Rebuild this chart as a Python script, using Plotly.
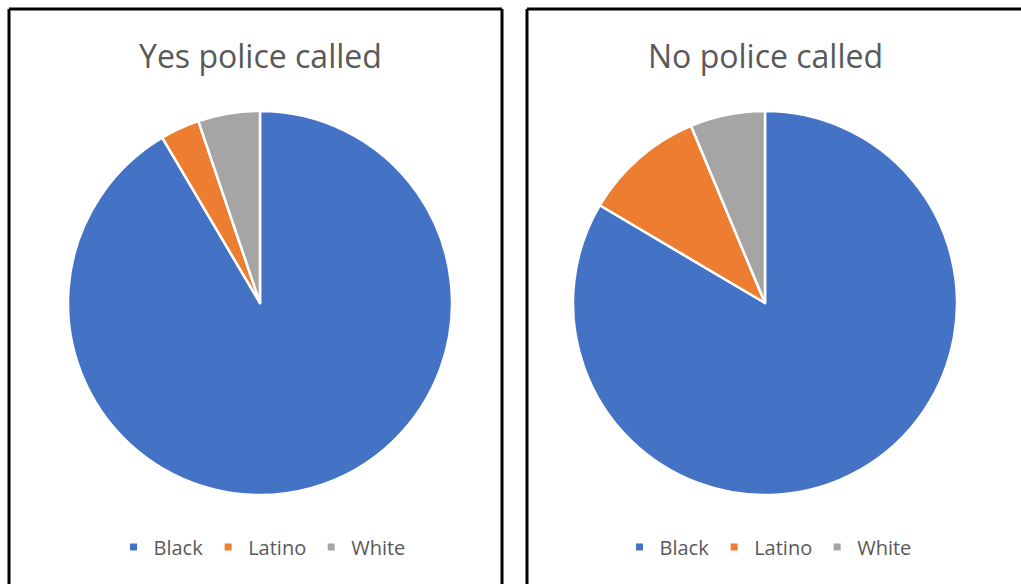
import plotly.graph_objects as go

# Share of incidents by race, split by whether police were called
categories = ["Black", "Latino", "White"]
yes_called = [91.5, 3.3, 5.2]
no_called = [83.5, 10.2, 6.3]
titles = ["Yes police called", "No police called"]
colors = ["#4472C4", "#ED7D31", "#A5A5A5"]

W, H = 1021, 584
TEXT = "#595959"
FONT = "Open Sans"


def px(x):
    return x / W


def py(y):
    return 1 - y / H


fig = go.Figure()

panels = [
    dict(values=yes_called, title=titles[0], cx=260, legend="legend"),
    dict(values=no_called, title=titles[1], cx=765, legend="legend2"),
]
R, CY = 192, 303

for p in panels:
    fig.add_trace(go.Pie(
        labels=categories,
        values=p["values"],
        sort=False,
        direction="clockwise",
        rotation=0,
        textinfo="none",
        marker=dict(colors=colors, line=dict(color="white", width=2.5)),
        domain=dict(x=[px(p["cx"] - R), px(p["cx"] + R)],
                    y=[py(CY + R), py(CY - R)]),
        showlegend=False,
    ))
    # legend entries with small square swatches
    for cat, col in zip(categories, colors):
        fig.add_trace(go.Scatter(
            x=[None], y=[None], mode="markers", name=cat,
            marker=dict(symbol="square", size=7, color=col),
            legend=p["legend"], showlegend=True,
        ))
    fig.add_annotation(
        x=px(p["cx"]), y=py(56), xref="paper", yref="paper",
        text=p["title"], showarrow=False, xanchor="center", yanchor="middle",
        font=dict(family=FONT, size=32, color=TEXT),
    )

legend_style = dict(
    orientation="h", xanchor="center", yanchor="middle",
    yref="paper", y=py(547),
    font=dict(family=FONT, size=20, color=TEXT),
    bgcolor="rgba(0,0,0,0)", itemwidth=30, tracegroupgap=0,
)

# panel frames
for x0, x1 in [(9, 502), (527, 1030)]:
    fig.add_shape(type="line", xref="paper", yref="paper",
                  x0=px(x0), x1=px(x0), y0=py(9), y1=py(600),
                  line=dict(color="black", width=3))
    fig.add_shape(type="line", xref="paper", yref="paper",
                  x0=px(x0), x1=px(x1), y0=py(9), y1=py(9),
                  line=dict(color="black", width=3))
fig.add_shape(type="line", xref="paper", yref="paper",
              x0=px(502), x1=px(502), y0=py(9), y1=py(600),
              line=dict(color="black", width=3))

fig.update_layout(
    width=W, height=H,
    margin=dict(l=0, r=0, t=0, b=0),
    paper_bgcolor="white", plot_bgcolor="white",
    xaxis=dict(visible=False), yaxis=dict(visible=False),
    legend=dict(x=px(262), **legend_style),
    legend2=dict(x=px(768), **legend_style),
)

fig.write_html("out.html")
